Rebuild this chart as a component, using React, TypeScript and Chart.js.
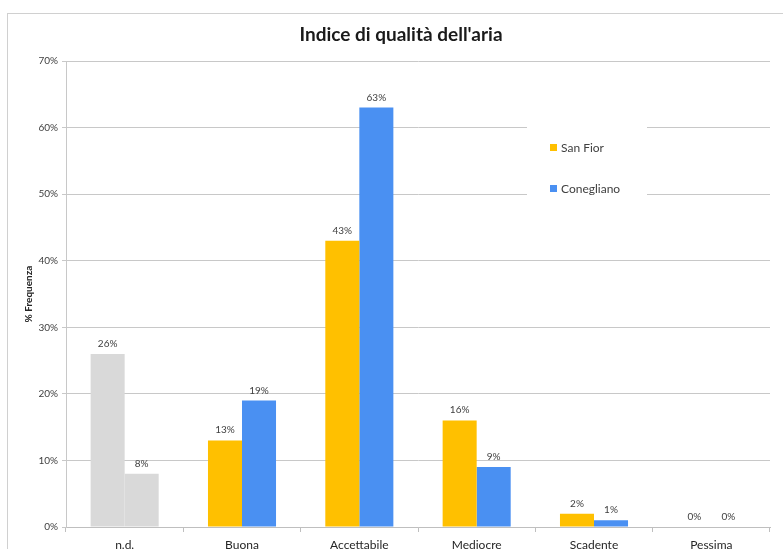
import React, { useEffect, useRef } from "react";
import { Chart, registerables } from "chart.js";

Chart.register(...registerables);

const categories = ["n.d.", "Buona", "Accettabile", "Mediocre", "Scadente", "Pessima"];
const sanFior = [26, 13, 43, 16, 2, 0];
const conegliano = [8, 19, 63, 9, 1, 0];
const seriesNames = ["San Fior", "Conegliano"];
const titleText = "Indice di qualità dell'aria";
const yAxisTitle = "% Frequenza";

const ORANGE = "#FFC000";
const BLUE = "#4A90F2";
const GRAY = "#D9D9D9";
const FONT = "Lato, 'Open Sans', sans-serif";

const decorPlugin = {
  id: "decor",
  beforeDraw(chart: any) {
    const ctx = chart.ctx;
    ctx.save();
    ctx.fillStyle = "#fff";
    ctx.fillRect(0, 0, chart.width, chart.height);
    ctx.strokeStyle = "#D0D0D0";
    ctx.lineWidth = 1;
    ctx.strokeRect(7.5, 13.5, 900, 700);
    ctx.restore();
  },
  afterDatasetsDraw(chart: any) {
    const ctx = chart.ctx;
    ctx.save();
    // title
    ctx.fillStyle = "#1a1a1a";
    ctx.font = `bold 19px ${FONT}`;
    ctx.textAlign = "center";
    ctx.textBaseline = "middle";
    ctx.fillText(titleText, 401, 35);
    // y axis title
    ctx.save();
    ctx.translate(29, 294);
    ctx.rotate(-Math.PI / 2);
    ctx.font = `bold 10px ${FONT}`;
    ctx.fillStyle = "#262626";
    ctx.fillText(yAxisTitle, 0, 0);
    ctx.restore();
    // data labels
    ctx.font = `10px ${FONT}`;
    ctx.fillStyle = "#404040";
    ctx.textBaseline = "alphabetic";
    chart.data.datasets.forEach((ds: any, di: number) => {
      const meta = chart.getDatasetMeta(di);
      meta.data.forEach((bar: any, i: number) => {
        ctx.fillText(ds.data[i] + "%", bar.x, bar.y - 7);
      });
    });
    // legend
    ctx.fillStyle = "#fff";
    ctx.fillRect(527, 105, 120, 105);
    const items = [
      { name: seriesNames[0], color: ORANGE, y: 148 },
      { name: seriesNames[1], color: BLUE, y: 189 },
    ];
    ctx.font = `12px ${FONT}`;
    ctx.textAlign = "left";
    ctx.textBaseline = "middle";
    items.forEach((it) => {
      ctx.fillStyle = it.color;
      ctx.fillRect(550, it.y - 4, 7, 7);
      ctx.fillStyle = "#404040";
      ctx.fillText(it.name, 561, it.y);
    });
    ctx.restore();
  },
};

export default function App() {
  const ref = useRef<HTMLCanvasElement>(null);
  useEffect(() => {
    if (!ref.current) return;
    const chart = new Chart(ref.current, {
      type: "bar",
      data: {
        labels: categories,
        datasets: [
          {
            label: seriesNames[0],
            data: sanFior,
            backgroundColor: categories.map((c, i) => (i === 0 ? GRAY : ORANGE)),
            categoryPercentage: 0.58,
            barPercentage: 1.0,
          },
          {
            label: seriesNames[1],
            data: conegliano,
            backgroundColor: categories.map((c, i) => (i === 0 ? GRAY : BLUE)),
            categoryPercentage: 0.58,
            barPercentage: 1.0,
          },
        ],
      },
      options: {
        animation: false,
        responsive: false,
        maintainAspectRatio: false,
        layout: { padding: { left: 0, top: 61, right: 13, bottom: 0 } },
        plugins: {
          legend: { display: false },
          title: { display: false },
          tooltip: { enabled: false },
        },
        scales: {
          x: {
            afterFit: (s: any) => {
              s.height = 22;
            },
            grid: {
              drawOnChartArea: false,
              drawTicks: true,
              tickLength: 5,
              offset: true,
              color: "#BFBFBF",
            },
            border: { color: "#BFBFBF" },
            ticks: {
              color: "#262626",
              font: { family: FONT, size: 12 },
              padding: 6,
            },
          },
          y: {
            min: 0,
            max: 70,
            afterFit: (s: any) => {
              s.width = 66;
            },
            ticks: {
              stepSize: 10,
              callback: (v: any) => v + "%",
              color: "#404040",
              font: { family: FONT, size: 10 },
              padding: 4,
            },
            grid: { color: "#C8C8C8", tickLength: 4 },
            border: { color: "#C8C8C8" },
          },
        },
      },
      plugins: [decorPlugin],
    });
    return () => chart.destroy();
  }, []);
  return (
    <div style={{ position: "absolute", left: 0, top: 0, width: 783, height: 549, background: "#fff" }}>
      <canvas ref={ref} width={783} height={549} style={{ width: 783, height: 549, display: "block" }} />
    </div>
  );
}
